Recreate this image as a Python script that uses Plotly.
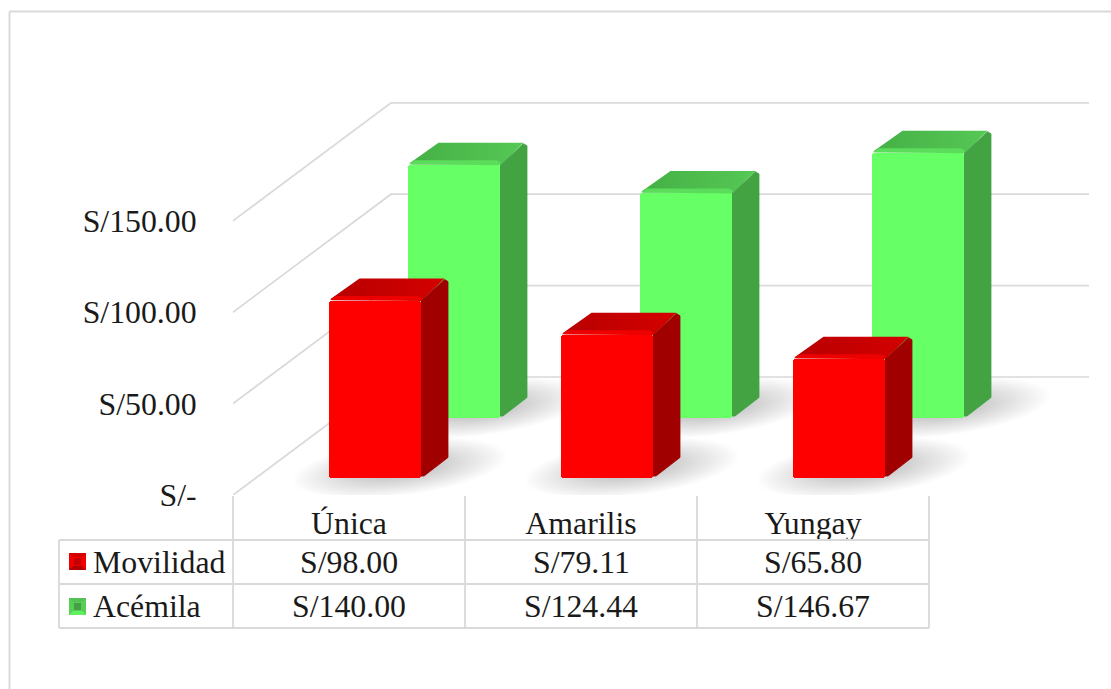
import numpy as np
import plotly.graph_objects as go

# ---- data ----
categories = ["Única", "Amarilis", "Yungay"]
movilidad = [98.00, 79.11, 65.80]
acemila = [140.00, 124.44, 146.67]
y_ticks = [0, 50, 100, 150]
y_tick_labels = ["S/-", "S/50.00", "S/100.00", "S/150.00"]
series_names = ["Movilidad", "Acémila"]

# ---- geometry (page pixels per axis unit) ----
W, H = 1111, 689
PX_X, PX_Y = 232.0, 1.828     # wall scale
PX_BAR = 1.805                # scale of the bars' own plane (axis y2)
LEFT, FLOOR = 233.0, 495.0
GRID = "#D9D9D9"
FONT = "Liberation Serif"
FS = 31.8
TXT = "#1A1A1A"


def ux(px):
    return px / PX_X


def uy(px):
    return px / PX_Y


def ub(px):
    return px / PX_BAR


def px_paper(px):
    return px / W


def py_paper(py):
    return 1 - py / H


BAR_W = ux(92)
DEPTH_X, DEPTH_Y, DEPTH_TOP = ux(27), ub(20.5), ub(22.5)
WALL_X, WALL_Y = ux(158), uy(118)
X_END = ux(1089 - LEFT)
S_RED = {"off": ux(375 - LEFT), "base": 17, "front": "#FF0000", "side": "#A00000",
         "top": ["#B80000", "#D40000"], "bevel": "#EC0000"}
S_GRN = {"off": ux(454 - LEFT), "base": 77, "front": "#66FF66", "side": "#43A343",
         "top": ["#45B045", "#55C855"], "bevel": "#5BDC5B"}

fig = go.Figure()
shapes = []

# back wall and side wall gridlines
for t in y_ticks:
    path = f"M 0,{t} L {WALL_X},{t + WALL_Y} L {X_END},{t + WALL_Y}"
    shapes.append(dict(type="path", path=path, xref="x", yref="y", layer="below",
                       line=dict(color=GRID, width=1.7)))


# soft floor shadows
def shadow(cx, base_px):
    out = []
    th = np.linspace(0, 2 * np.pi, 40, endpoint=False)
    tilt = np.radians(7)
    for s in np.linspace(1.0, 0.3, 28):
        a, b = 108 * s, 28 * s
        xp = a * np.cos(th) * np.cos(tilt) - b * np.sin(th) * np.sin(tilt)
        yp = a * np.cos(th) * np.sin(tilt) + b * np.sin(th) * np.cos(tilt)
        xs = cx - BAR_W / 2 + ux(71) + ux(1) * xp
        ys = uy(base_px) + uy(10) + uy(1) * yp
        d = "M " + " L ".join(f"{p:.4f},{q:.3f}" for p, q in zip(xs, ys)) + " Z"
        out.append(dict(type="path", path=d, xref="x", yref="y", layer="below",
                        fillcolor="rgba(0,0,0,0.0085)", line=dict(width=0)))
    return out


for sty in (S_GRN, S_RED):
    for i in range(len(categories)):
        shapes += shadow(i + sty["off"], sty["base"])


def add_bar(name, values, sty):
    xs = [i + sty["off"] for i in range(len(values))]
    fig.add_trace(go.Bar(
        x=xs, y=values, base=[ub(sty["base"])] * len(values), width=BAR_W, name=name, yaxis="y2",
        marker=dict(color=sty["front"], line=dict(width=0), cornerradius=3),
        showlegend=False, hoverinfo="skip"))


def add_faces(values, sty):
    c = ux(3.5)
    ch = ub(3)
    for i, v in enumerate(values):
        x0 = i + sty["off"] - BAR_W / 2
        x1 = x0 + BAR_W
        b = ub(sty["base"])
        t = b + v
        # top face
        fig.add_trace(go.Scatter(
            x=[x0 + c, x1 - c, x1, x1 + DEPTH_X - c, x0 + DEPTH_X + c, x0 + ux(1.5)],
            y=[t + ch * 0.3, t + ch * 0.3, t, t + DEPTH_TOP, t + DEPTH_TOP, t + ub(2)],
            mode="lines", fill="toself", line=dict(width=0), yaxis="y2",
            fillgradient=dict(type="horizontal",
                              colorscale=[[0, sty["top"][0]], [1, sty["top"][1]]]),
            showlegend=False, hoverinfo="skip"))
        # bevel strip on the front edge of the top face
        fig.add_trace(go.Scatter(
            x=[x0 + ux(1), x1, x1 + ux(2), x1 - c, x0 + ux(7)],
            y=[t + ub(1), t, t + ub(2), t + ub(5), t + ub(5)],
            mode="lines", fill="toself", fillcolor=sty["bevel"], line=dict(width=0), yaxis="y2",
            showlegend=False, hoverinfo="skip"))
        # side face
        fig.add_trace(go.Scatter(
            x=[x1, x1 + DEPTH_X - c, x1 + DEPTH_X, x1 + DEPTH_X, x1 + ux(3), x1],
            y=[t, t + DEPTH_TOP - ch * 0.3, t + DEPTH_TOP - ch, b + DEPTH_Y, b + ub(2), b + ub(2)],
            mode="lines", fill="toself", fillcolor=sty["side"],
            line=dict(width=0.8, color=sty["side"]), yaxis="y2",
            showlegend=False, hoverinfo="skip"))


add_bar(series_names[1], acemila, S_GRN)
add_bar(series_names[0], movilidad, S_RED)
add_faces(acemila, S_GRN)
add_faces(movilidad, S_RED)


# ---- data table grid and outer frame, in page fractions ----
def pline(x0, y0, x1, y1, width=1.8):
    shapes.append(dict(type="line", xref="paper", yref="paper", layer="above",
                       x0=px_paper(x0), x1=px_paper(x1), y0=py_paper(y0), y1=py_paper(y1),
                       line=dict(color=GRID, width=width)))


for yy in (540, 584, 628):
    pline(59, yy, 929, yy)
pline(59, 540, 59, 628)
for xx in (233, 465, 697, 929):
    pline(xx, 496, xx, 628)
pline(9.5, 11.5, W, 11.5, 2)
pline(9.5, 11.5, 9.5, H, 2)


# ---- legend keys ----
def key(y0, base, light, dark, inner):
    x0, x1, y1 = 69, 86, y0 + 17
    X = px_paper
    Y = py_paper

    def poly(pts, col):
        d = "M " + " L ".join(f"{X(a):.5f},{Y(b):.5f}" for a, b in pts) + " Z"
        shapes.append(dict(type="path", path=d, xref="paper", yref="paper", layer="above",
                           fillcolor=col, line=dict(width=0)))

    poly([(x0, y0), (x1, y0), (x1, y1), (x0, y1)], base)
    poly([(x0, y0), (x1, y0), (x1 - 4, y0 + 4), (x0 + 4, y0 + 4)], light)
    poly([(x0, y1), (x1, y1), (x1 - 4, y1 - 4), (x0 + 4, y1 - 4)], dark)
    poly([(x0 + 5, y0 + 5), (x1 - 5, y0 + 5), (x1 - 5, y1 - 5), (x0 + 5, y1 - 5)], inner)


key(553, "#F00000", "#D00000", "#B00000", "#C40000")
key(598, "#55D055", "#55C055", "#60F060", "#45A045")

# ---- table text ----
annots = []
rows = [(562, series_names[0], movilidad, 91), (606, series_names[1], acemila, 91)]
for ypx, nm, vals, xl in rows:
    annots.append(dict(x=px_paper(xl), y=py_paper(ypx), xref="paper", yref="paper", text=nm,
                       showarrow=False, xanchor="left", yanchor="middle",
                       font=dict(family=FONT, size=FS, color=TXT)))
    for i, v in enumerate(vals):
        annots.append(dict(x=i + 0.5, y=py_paper(ypx), xref="x", yref="paper", text=f"S/{v:.2f}",
                           showarrow=False, xanchor="center", yanchor="middle",
                           font=dict(family=FONT, size=FS, color=TXT)))

fig.update_layout(
    width=W, height=H, autosize=False,
    margin=dict(l=0, r=0, t=0, b=0, pad=0, autoexpand=False),
    paper_bgcolor="white", plot_bgcolor="rgba(0,0,0,0)", barmode="overlay",
    shapes=shapes, annotations=annots, showlegend=False, bargap=0,
    xaxis=dict(domain=[LEFT / W, 1], range=[0, (W - LEFT) / PX_X], showgrid=False, zeroline=False,
               showline=False, automargin=False, tickmode="array",
               tickvals=[i + 0.5 for i in range(len(categories))],
               ticktext=categories, ticks="outside", ticklen=0, tickcolor="rgba(0,0,0,0)",
               tickfont=dict(family=FONT, size=FS, color=TXT)),
    yaxis=dict(domain=[(H - FLOOR) / H, 1], range=[0, FLOOR / PX_Y], showgrid=False, zeroline=False,
               showline=False, automargin=False, tickmode="array", tickvals=y_ticks,
               ticktext=y_tick_labels, ticks="outside", ticklen=29, tickcolor="rgba(0,0,0,0)",
               tickfont=dict(family=FONT, size=FS, color=TXT)),
    yaxis2=dict(domain=[(H - FLOOR) / H, 1], range=[0, FLOOR / PX_BAR], overlaying="y",
                visible=False, showgrid=False, zeroline=False, automargin=False),
)
fig.write_html("out.html", config={"displayModeBar": False},
               post_script="document.body.style.margin='0';document.body.style.overflow='hidden';")
